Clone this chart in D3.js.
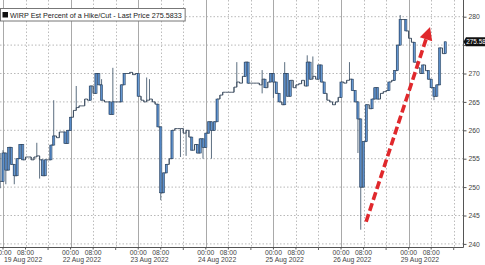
<!DOCTYPE html>
<html><head><meta charset="utf-8">
<script src="https://cdn.jsdelivr.net/npm/d3@7"></script>
<style>html,body{margin:0;padding:0;background:#fff;overflow:hidden}</style>
</head><body><svg id="c" width="485" height="265"></svg>
<script>
// ---------- data ----------
const startHour = -1; // hourly bars, hour index counted across trading days (24 per day)
const closes = [
 251,256,253,257,254,252,255,257.5,254.8,255.3,255.3,254.8,255.3,255.5,254.8,252,254.8,254.8,257.4,259,258.7,259.7,259.7,257.7,260,
 262.3,263.5,264,264.3,264.3,265.5,265.3,267.8,266.5,270,268,265.3,265,265,262.8,265,265,265,268,270,270,270.2,269.8,270,
 266,265.3,265,265.3,265.5,265,264.6,260.6,249,252.5,254,255,260,260.3,260.3,260.3,259.5,260,258.8,256.5,257.5,256,258.5,257,
 259.5,261.5,260,261.5,265.5,266.2,266.7,266.7,266.7,266.7,267.6,268.5,268.3,269.5,272,268.3,268.3,268.3,268.3,268,269,267.5,268.5,270,
 268.5,266.5,265,264.5,270,266,268.8,267.5,268,268.2,268.8,267.8,272,269,269.5,269,271.5,268.5,266.5,265.3,265,264.5,265,265.8,
 268.5,268.3,268.8,269,267,265,262,250,258,264.5,263.8,265.5,267.5,265.5,266.5,266.8,267,268.5,268.8,270.5,275,279.5,279.5,277.5,
 276.2,275.5,272,271,270,271.5,270.5,269,267.5,266,268,274.5,273.5,275.58
];
const wickHighs = [[-1,256],[0,256.5],[12,257.8],[18,265.3],[26,267.8],[35,269],[39,271],[51,269.3],[52,269],[83,272],[92,270.6],[100,272],[108,273.2],[110,273],[123,272],[141,280.3]];
const wickLows = [[-1,249.8],[1,250.5],[4,250.5],[13,251.5],[56,247.7],[63,255.3],[65,255.5],[71,255],[74,255],[92,266.5],[96,265.7],[126,256],[127,242.5],[128,254],[153,265.3]];
const yTicks = [240,245,250,255,260,265,270,275,280];
const dayLabels = ["19 Aug 2022","22 Aug 2022","23 Aug 2022","24 Aug 2022","25 Aug 2022","26 Aug 2022","29 Aug 2022"];
const hourLabels = ["00:00","08:00"];
const lastPrice = 275.5833;
const legendText = "WIRP Est Percent of a Hike/Cut - Last Price 275.5833";
const arrowFrom = [128.9, 243.9]; // [hour index, value]
const arrowTo = [151.6, 278.2];

// ---------- chart ----------
const svg = d3.select("#c");
const plotR = 463, plotB = 247;
const x = d3.scaleLinear().domain([-1.065, 163.3]).range([0, plotR]);
const y = d3.scaleLinear().domain([240, 280]).range([243.9, 16.7]);
const font = "'Liberation Sans', Arial, sans-serif";

const defs = svg.append("defs");
defs.append("clipPath").attr("id","clip")
  .append("rect").attr("x",0).attr("y",0).attr("width",plotR).attr("height",plotB);
const grad = defs.append("linearGradient").attr("id","bodyGrad").attr("x1","0").attr("x2","1").attr("y1","0").attr("y2","0");
grad.append("stop").attr("offset","0").attr("stop-color","#2f67b0");
grad.append("stop").attr("offset","1").attr("stop-color","#8bb8e6");

// grid
const grid = svg.append("g");
grid.selectAll("line.h").data(yTicks).join("line")
  .attr("x1",0).attr("x2",plotR).attr("y1",d=>y(d)).attr("y2",d=>y(d))
  .attr("stroke","#b8b8b8").attr("stroke-width",1).attr("stroke-dasharray","1.5,2");
const vlines = [];
dayLabels.forEach((d,k)=>{ [0,8,16].forEach(h=>{ const t=24*k+h; if (t < x.domain()[1]) vlines.push({t, solid:h===0}); }); });
grid.selectAll("line.v").data(vlines).join("line")
  .attr("x1",d=>Math.round(x(d.t))+0.5).attr("x2",d=>Math.round(x(d.t))+0.5).attr("y1",0).attr("y2",plotB)
  .attr("stroke",d=>d.solid?"#a9a9a9":"#bcbcbc").attr("stroke-width",1)
  .attr("stroke-dasharray",d=>d.solid?null:"1.5,2");

// series
const bars = closes.map((c,i)=>({t:startHour+i, close:c, open: i===0?c:closes[i-1]}));
bars.forEach(b=>{ b.high=Math.max(b.open,b.close); b.low=Math.min(b.open,b.close); });
wickHighs.forEach(([t,v])=>{ const b=bars[t-startHour]; b.high=Math.max(b.high,v); });
wickLows.forEach(([t,v])=>{ const b=bars[t-startHour]; b.low=Math.min(b.low,v); });

const g = svg.append("g").attr("clip-path","url(#clip)");
g.selectAll("line.w").data(bars).join("line")
  .attr("x1",d=>x(d.t)).attr("x2",d=>x(d.t)).attr("y1",d=>y(d.high)).attr("y2",d=>y(d.low))
  .attr("stroke","#4a5d72").attr("stroke-width",0.9);
g.append("path").datum(bars)
  .attr("d", d3.line().x(d=>x(d.t)).y(d=>y(d.close)).curve(d3.curveStepAfter))
  .attr("fill","none").attr("stroke","#3a4a5c").attr("stroke-width",0.9);
g.selectAll("rect.b").data(bars.filter(b=>Math.abs(b.close-b.open)>=1.5)).join("rect")
  .attr("x",d=>x(d.t)-1.1).attr("width",2.2)
  .attr("y",d=>y(Math.max(d.open,d.close))).attr("height",d=>Math.abs(y(d.open)-y(d.close)))
  .attr("fill","url(#bodyGrad)").attr("stroke","#2d4560").attr("stroke-width",0.6);

// axes
svg.append("line").attr("x1",plotR+0.5).attr("x2",plotR+0.5).attr("y1",0).attr("y2",plotB+0.5).attr("stroke","#555");
svg.append("line").attr("x1",0).attr("x2",plotR+0.5).attr("y1",plotB+0.5).attr("y2",plotB+0.5).attr("stroke","#555");
const ya = svg.append("g").attr("transform",`translate(${plotR+0.5},0)`)
  .call(d3.axisRight(y).tickValues(yTicks).tickSize(3).tickPadding(2).tickFormat(d3.format("d")));
ya.select(".domain").remove();
ya.selectAll("line").attr("stroke","#555");
ya.selectAll("text").attr("font-family",font).attr("font-size","6.8px").attr("fill","#444")
  .attr("visibility",d=>Math.abs(y(d)-y(lastPrice))<6?"hidden":null);

const xTicks = [];
dayLabels.forEach((d,k)=>{ [0,8].forEach((h,j)=>xTicks.push({t:24*k+h, lab:hourLabels[j]})); });
const xa = svg.append("g");
xa.selectAll("line.tk").data(xTicks).join("line").attr("class","tk")
  .attr("x1",d=>x(d.t)).attr("x2",d=>x(d.t)).attr("y1",plotB).attr("y2",plotB+2.5).attr("stroke","#555");
xa.selectAll("line.sep").data(dayLabels.map((d,k)=>24*k+16)).join("line").attr("class","sep")
  .attr("x1",d=>x(d)).attr("x2",d=>x(d)).attr("y1",plotB).attr("y2",plotB+3).attr("stroke","#666");
xa.selectAll("text.hr").data(xTicks).join("text").attr("class","hr")
  .attr("x",d=>x(d.t)).attr("y",254.5).attr("text-anchor","middle")
  .attr("font-family",font).attr("font-size","6.8px").attr("fill","#444").text(d=>d.lab);
xa.selectAll("text.dy").data(dayLabels).join("text").attr("class","dy")
  .attr("x",(d,k)=>x(24*k+4)).attr("y",262).attr("text-anchor","middle")
  .attr("font-family",font).attr("font-size","6.8px").attr("fill","#444").text(d=>d)
  .each(function(){ const w=this.getComputedTextLength(); const cx=+this.getAttribute("x"); if (cx-w/2<4) this.setAttribute("x", 4+w/2); });

// arrow annotation
const p0=[x(arrowFrom[0]),y(arrowFrom[1])], p1=[x(arrowTo[0]),y(arrowTo[1])];
const dx=p1[0]-p0[0], dy=p1[1]-p0[1], L=Math.hypot(dx,dy), ux=dx/L, uy=dy/L;
const headLen=13, headW=6.5;
const base=[p1[0]-ux*headLen, p1[1]-uy*headLen];
svg.append("line").attr("x1",p0[0]).attr("y1",p0[1]).attr("x2",base[0]+ux*2).attr("y2",base[1]+uy*2)
  .attr("stroke","#e0282c").attr("stroke-width",3.6).attr("stroke-dasharray","8,3.5");
svg.append("path").attr("d",`M${p1[0]},${p1[1]}L${base[0]-uy*headW},${base[1]+ux*headW}L${base[0]+uy*headW},${base[1]-ux*headW}Z`)
  .attr("fill","#e0282c");

// legend
const leg = svg.append("g");
const legBox = leg.append("rect").attr("x",0.5).attr("y",8.5).attr("height",12.5)
  .attr("fill","#fff").attr("stroke","#777").attr("stroke-width",1);
leg.append("rect").attr("x",2.5).attr("y",12).attr("width",5.5).attr("height",5.5).attr("fill","#111");
const legT = leg.append("text").attr("x",10).attr("y",17.8).attr("font-family",font).attr("font-size","7.2px")
  .attr("fill","#222").text(legendText);
legBox.attr("width", legT.node().getComputedTextLength()+13);

// last price tag
const ly=y(lastPrice);
svg.append("path").attr("d",`M${plotR+0.5},${ly}L${plotR+3},${ly-4.5}L${485},${ly-4.5}L${485},${ly+4.5}L${plotR+3},${ly+4.5}Z`).attr("fill","#111");
svg.append("text").attr("x",plotR+3.2).attr("y",ly+2.3).attr("font-family",font).attr("font-size","6.4px")
  .attr("fill","#fff").text(d3.format(".2f")(lastPrice));
</script></body></html>
